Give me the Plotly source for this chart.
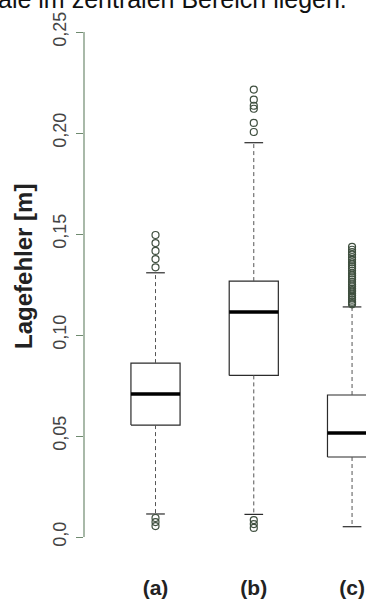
import plotly.graph_objects as go

# ---- data ----
categories = ["(a)", "(b)", "(c)"]
positions = [1, 2, 3]
q1 = [0.0554, 0.0800, 0.0396]
median = [0.0708, 0.1114, 0.0515]
q3 = [0.0861, 0.1267, 0.0703]
lower_whisker = [0.0114, 0.0112, 0.0051]
upper_whisker = [0.1308, 0.1952, 0.1139]
outliers_a = [0.1495, 0.1455, 0.1416, 0.1376, 0.1335, 0.0094, 0.0074, 0.0054]
outliers_b = [0.2215, 0.2165, 0.2135, 0.2120, 0.2050, 0.2005, 0.0084, 0.0064, 0.0045]
outliers_c = [0.1436, 0.1422, 0.1410, 0.1398, 0.1385, 0.1372, 0.1360, 0.1350,
              0.1340, 0.1330, 0.1318, 0.1305, 0.1295, 0.1285, 0.1275, 0.1262,
              0.1250, 0.1240, 0.1230, 0.1222, 0.1215, 0.1205, 0.1195, 0.1185,
              0.1175, 0.1165, 0.1158, 0.1152]
y_tick_values = [0.0, 0.05, 0.10, 0.15, 0.20, 0.25]
y_tick_labels = ["0,0", "0,05", "0,10", "0,15", "0,20", "0,25"]
y_title = "Lagefehler [m]"
header_text = "ale im zentralen Bereich liegen."

outliers = [outliers_a, outliers_b, outliers_c]

# ---- styling ----
FONT = "Liberation Sans, Arial, Helvetica, sans-serif"
BOX_COL = "#2b2b2b"
WHISK_COL = "#555555"
AXIS_COL = "#6f8a6f"
PT_COL = "#3f4f3f"
half_w = 0.25
cap_w = 0.095

fig = go.Figure()
for i, pos in enumerate(positions):
    fig.add_trace(go.Scatter(
        x=[pos - half_w, pos + half_w, pos + half_w, pos - half_w, pos - half_w],
        y=[q1[i], q1[i], q3[i], q3[i], q1[i]],
        mode="lines", line=dict(color=BOX_COL, width=1.2),
        hoverinfo="skip", showlegend=False))
    fig.add_trace(go.Scatter(
        x=[pos - half_w, pos + half_w], y=[median[i], median[i]],
        mode="lines", line=dict(color="#000000", width=3.5),
        hoverinfo="skip", showlegend=False))
    fig.add_trace(go.Scatter(
        x=[pos, pos, None, pos, pos],
        y=[q3[i], upper_whisker[i], None, q1[i], lower_whisker[i]],
        mode="lines", line=dict(color=WHISK_COL, width=1, dash="4px,3px"),
        hoverinfo="skip", showlegend=False))
    fig.add_trace(go.Scatter(
        x=[pos - cap_w, pos + cap_w, None, pos - cap_w, pos + cap_w],
        y=[upper_whisker[i], upper_whisker[i], None, lower_whisker[i], lower_whisker[i]],
        mode="lines", line=dict(color=BOX_COL, width=1.2),
        hoverinfo="skip", showlegend=False))
    fig.add_trace(go.Scatter(
        x=[pos] * len(outliers[i]), y=outliers[i],
        mode="markers",
        marker=dict(symbol="circle-open", size=7, color=PT_COL, line=dict(width=1.2)),
        hoverinfo="skip", showlegend=False))

fig.update_layout(
    width=366, height=599,
    margin=dict(l=84, r=0, t=32, b=26),
    paper_bgcolor="white", plot_bgcolor="white",
    font=dict(family=FONT),
    xaxis=dict(range=[0.2723, 3.142], tickvals=positions, ticktext=categories,
               ticks="", showgrid=False, zeroline=False, showline=False,
               tickfont=dict(size=21, color="#222222", weight="bold")),
    yaxis=dict(range=[-0.01782, 0.25], tickvals=y_tick_values, ticktext=y_tick_labels,
               ticks="outside", ticklen=7, tickcolor=AXIS_COL, tickwidth=1,
               tickangle=-90, ticklabelstandoff=3,
               showgrid=False, zeroline=False, showline=False,
               tickfont=dict(size=18, color="#444444")),
    shapes=[dict(type="line", xref="paper", yref="y", x0=0, x1=0, y0=0, y1=0.25,
                 line=dict(color=AXIS_COL, width=1.2))],
    annotations=[
        dict(text=y_title, textangle=-90, xref="paper", yref="y", x=0, y=0.1337,
             xshift=-60, xanchor="center", yanchor="middle", showarrow=False,
             font=dict(size=24, color="#222222", weight="bold")),
        dict(text=header_text, xref="paper", yref="paper", x=0.9397, y=1,
             xanchor="right", yanchor="bottom", yshift=17, showarrow=False,
             font=dict(size=25, color="#111111")),
    ],
)

fig.write_html("out.html", config={"displayModeBar": False},
               post_script="document.body.style.margin='0';")
